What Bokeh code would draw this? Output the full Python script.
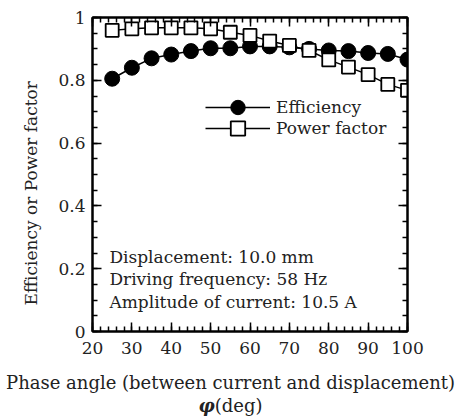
from bokeh.plotting import figure
from bokeh.models import (Range1d, FixedTicker, LinearAxis, Legend, LegendItem, Label, Title, Div)
from bokeh.layouts import column
from bokeh.embed import file_html
from bokeh.resources import INLINE

# ---- data ----
phase = [25, 30, 35, 40, 45, 50, 55, 60, 65, 70, 75, 80, 85, 90, 95, 100]
efficiency = [0.805, 0.840, 0.870, 0.882, 0.893, 0.902, 0.902, 0.908, 0.908,
              0.905, 0.900, 0.895, 0.893, 0.887, 0.884, 0.866]
power_factor = [0.959, 0.964, 0.967, 0.967, 0.967, 0.964, 0.953, 0.943, 0.925,
                0.911, 0.895, 0.865, 0.842, 0.818, 0.787, 0.768]
x_ticks = [20, 30, 40, 50, 60, 70, 80, 90, 100]
y_ticks = [0, 0.2, 0.4, 0.6, 0.8, 1]
notes = ["Displacement: 10.0 mm", "Driving frequency: 58 Hz", "Amplitude of current: 10.5 A"]

FONT = "DejaVu Serif"
FS = "17px"
TC = "#222222"

p = figure(width=461, height=365, output_backend="svg", toolbar_location=None,
           x_range=Range1d(20, 100), y_range=Range1d(0, 1),
           min_border_left=92, min_border_right=54, min_border_top=17, min_border_bottom=34)
p.background_fill_color = "white"
p.border_fill_color = "white"
p.xgrid.visible = False
p.ygrid.visible = False
p.outline_line_color = "black"
p.outline_line_width = 2

xt = FixedTicker(ticks=x_ticks, minor_ticks=list(range(20, 101, 2)))
yt = FixedTicker(ticks=y_ticks, minor_ticks=[i * 0.05 for i in range(21)])

def style(ax, labels=True):
    ax.axis_line_width = 2
    ax.axis_line_color = "black"
    ax.major_tick_in = 9
    ax.major_tick_out = 0
    ax.minor_tick_in = 5
    ax.minor_tick_out = 0
    ax.major_tick_line_width = 1.5
    ax.minor_tick_line_width = 1.5
    ax.major_label_text_font = FONT
    ax.major_label_text_font_size = FS
    ax.major_label_text_color = TC if labels else None

xa = p.xaxis[0]
xa.ticker = xt
style(xa)
xa.major_label_standoff = 10

ya = p.yaxis[0]
ya.ticker = yt
style(ya)
ya.major_label_standoff = 7
ya.major_label_overrides = {0: "0", 1: "1"}

top = LinearAxis(ticker=xt)
style(top, labels=False)
p.add_layout(top, "above")
right = LinearAxis(ticker=yt)
style(right, labels=False)
p.add_layout(right, "right")

# y-axis title, shifted along the axis like the reference
ytitle = Title(text="Efficiency or Power factor", align="left", offset=26, standoff=29,
               text_font=FONT, text_font_size=FS, text_font_style="normal", text_color=TC)
p.add_layout(ytitle, "left")

# efficiency
l1 = p.line(phase, efficiency, line_color="black", line_width=1.5)
s1 = p.scatter(phase, efficiency, marker="circle", size=15, fill_color="black", line_color="black")
# power factor
l2 = p.line(phase, power_factor, line_color="black", line_width=1.5)
s2 = p.scatter(phase, power_factor, marker="square", size=13, fill_color="white",
               line_color="black", line_width=1.8)

common = dict(glyph_width=65, glyph_height=36, label_text_font=FONT, label_text_font_size=FS,
              label_text_color=TC, label_standoff=6, padding=0, margin=0,
              background_fill_alpha=0, border_line_alpha=0, label_height=17)
leg1 = Legend(items=[LegendItem(label="Efficiency", renderers=[l1, s1])], location=(113, 206), **common)
leg2 = Legend(items=[LegendItem(label="Power factor", renderers=[l2, s2])], location=(113, 185), **common)
p.add_layout(leg1, "center")
p.add_layout(leg2, "center")

for txt, yv in zip(notes, [0.236, 0.166, 0.093]):
    p.add_layout(Label(x=24.3, y=yv, text=txt, text_font=FONT, text_font_size=FS,
                       text_color=TC, text_baseline="middle", text_align="left"))

caption = Div(
    text="Phase angle (between current and displacement)<br>"
         "<span style='font-weight:bold;font-style:italic'>φ</span>(deg)",
    width=461, height=51, margin=0,
    styles={"font-family": FONT, "font-size": "18px", "color": TC, "text-align": "center",
            "line-height": "23px", "padding-top": "6px", "background-color": "white",
            "white-space": "nowrap", "box-sizing": "border-box"})

layout = column(p, caption, spacing=0)
open("out.html", "w").write(file_html(layout, INLINE))
